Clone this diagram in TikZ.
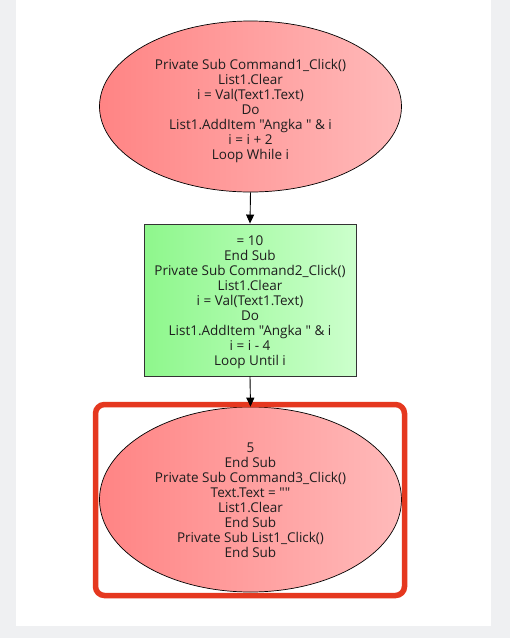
\documentclass[tikz,border=0pt]{standalone}
\usepackage{fontspec}
\setmainfont{Open Sans}[Ligatures=TeXOff]
\usetikzlibrary{shapes.geometric,arrows.meta}
\definecolor{bggray}{HTML}{EFF0F2}
\definecolor{redA}{HTML}{FF8484}
\definecolor{redB}{HTML}{FFBABA}
\definecolor{greenA}{HTML}{8EF78C}
\definecolor{greenB}{HTML}{CCFFCC}
\definecolor{frame}{HTML}{E5381F}
\definecolor{txt}{HTML}{1E1E1E}
\tikzset{
  label text/.style={text=txt, align=center, font=\fontsize{13.5}{15}\selectfont, inner sep=0pt},
  redoval/.style={ellipse, draw=black, line width=0.7pt, left color=redA, right color=redB, inner sep=0pt},
  greenbox/.style={rectangle, draw=black!80, line width=0.9pt, left color=greenA, right color=greenB, inner sep=0pt},
  conn/.style={draw=black, line width=0.9pt, -{Triangle[length=9pt,width=8pt]}},
  hilite/.style={draw=frame, line width=5.5pt, rounded corners=9pt}
}
\begin{document}
\begin{tikzpicture}[x=1pt,y=-1pt]
\useasboundingbox (0,0) rectangle (510,638);
\fill[bggray] (0,0) rectangle (510,638);
\fill[white] (16,0) rectangle (491,626);
\node[redoval, minimum width=302pt, minimum height=171pt] (e1) at (250.5,106.5) {};
\node[label text] (e1t) at (250.5,110.5)
  {Private Sub Command1\_Click()\\List1.Clear\\i = Val(Text1.Text)\\Do\\List1.AddItem "Angka " \& i\\i = i + 2\\Loop While i};
\node[greenbox, minimum width=212pt, minimum height=152pt] (r1) at (250,300) {};
\node[label text] (r1t) at (250,302)
  {= 10\\End Sub\\Private Sub Command2\_Click()\\List1.Clear\\i = Val(Text1.Text)\\Do\\List1.AddItem "Angka " \& i\\i = i - 4\\Loop Until i};
\node[redoval, minimum width=302pt, minimum height=185pt] (e3) at (250.5,499.5) {};
\node[label text] (e3t) at (250.5,500)
  {5\\End Sub\\Private Sub Command3\_Click()\\Text.Text = ""\\List1.Clear\\End Sub\\Private Sub List1\_Click()\\End Sub};
\coordinate (fa) at (95.5,404.5);
\coordinate (fb) at (404.5,595.5);
\draw[hilite] (fa) rectangle (fb);
\draw[conn] (e1.south) -- (r1.north);
\draw[conn] (r1.south) -- (e3.north);
\end{tikzpicture}
\end{document}
